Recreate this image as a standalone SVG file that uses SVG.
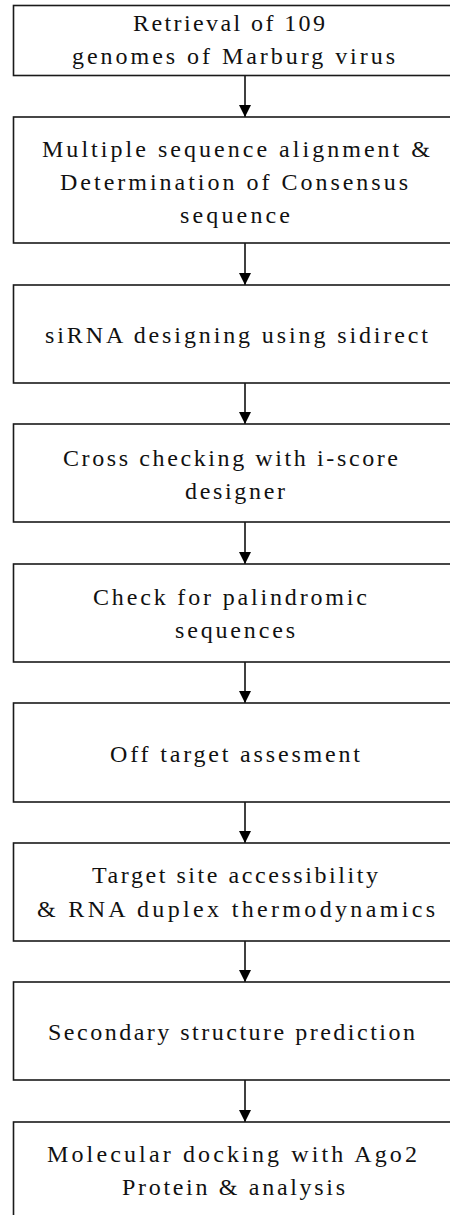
<svg xmlns="http://www.w3.org/2000/svg" width="450" height="1215" viewBox="0 0 450 1215">
<defs>
<marker id="ah" markerUnits="userSpaceOnUse" markerWidth="13" markerHeight="12" refX="12" refY="6" orient="auto">
<path d="M0,0 L12,6 L0,12 Z" fill="#000"/>
</marker>
</defs>
<style>
rect.box{fill:#fff;stroke:#1a1a1a;stroke-width:1.6}
text{font-family:"Liberation Serif","Times New Roman",serif;font-size:24px;fill:#111}
line.c{stroke:#000;stroke-width:1.5;marker-end:url(#ah)}
</style>
<rect width="450" height="1215" fill="#fff"/>
<g id="connectors">
<line class="c" x1="245" y1="75.5" x2="245" y2="117"/>
<line class="c" x1="245" y1="243" x2="245" y2="285"/>
<line class="c" x1="245" y1="383" x2="245" y2="424"/>
<line class="c" x1="245" y1="522" x2="245" y2="564"/>
<line class="c" x1="245" y1="662" x2="245" y2="703"/>
<line class="c" x1="245" y1="802" x2="245" y2="843"/>
<line class="c" x1="245" y1="941" x2="245" y2="982"/>
<line class="c" x1="245" y1="1080" x2="245" y2="1122"/>
</g>
<g id="n1"><rect class="box" x="13.5" y="5.5" width="460" height="70"/>
<text x="133" y="31" textLength="192" lengthAdjust="spacing">Retrieval of 109</text>
<text x="72" y="63.5" textLength="323" lengthAdjust="spacing">genomes of Marburg virus</text></g>
<g id="n2"><rect class="box" x="13.5" y="117" width="460" height="126"/>
<text x="42" y="157" textLength="388" lengthAdjust="spacing">Multiple sequence alignment &amp;</text>
<text x="60" y="190" textLength="348" lengthAdjust="spacing">Determination of Consensus</text>
<text x="180" y="222.5" textLength="110" lengthAdjust="spacing">sequence</text></g>
<g id="n3"><rect class="box" x="13.5" y="285" width="460" height="98"/>
<text x="45" y="343" textLength="383" lengthAdjust="spacing">siRNA designing using sidirect</text></g>
<g id="n4"><rect class="box" x="13.5" y="424" width="460" height="98"/>
<text x="63" y="466" textLength="335" lengthAdjust="spacing">Cross checking with i-score</text>
<text x="185" y="499" textLength="100" lengthAdjust="spacing">designer</text></g>
<g id="n5"><rect class="box" x="13.5" y="564" width="460" height="98"/>
<text x="93" y="605" textLength="274" lengthAdjust="spacing">Check for palindromic</text>
<text x="175" y="638" textLength="120" lengthAdjust="spacing">sequences</text></g>
<g id="n6"><rect class="box" x="13.5" y="703" width="460" height="99"/>
<text x="110" y="761.5" textLength="250" lengthAdjust="spacing">Off target assesment</text></g>
<g id="n7"><rect class="box" x="13.5" y="843" width="460" height="98"/>
<text x="92" y="883" textLength="286" lengthAdjust="spacing">Target site accessibility</text>
<text x="37" y="916.5" textLength="398" lengthAdjust="spacing">&amp; RNA duplex thermodynamics</text></g>
<g id="n8"><rect class="box" x="13.5" y="982" width="460" height="98"/>
<text x="48" y="1040" textLength="367" lengthAdjust="spacing">Secondary structure prediction</text></g>
<g id="n9"><rect class="box" x="13.5" y="1122" width="460" height="120"/>
<text x="47" y="1161.5" textLength="370" lengthAdjust="spacing">Molecular docking with Ago2</text>
<text x="122" y="1195" textLength="223" lengthAdjust="spacing">Protein &amp; analysis</text></g>
</svg>
